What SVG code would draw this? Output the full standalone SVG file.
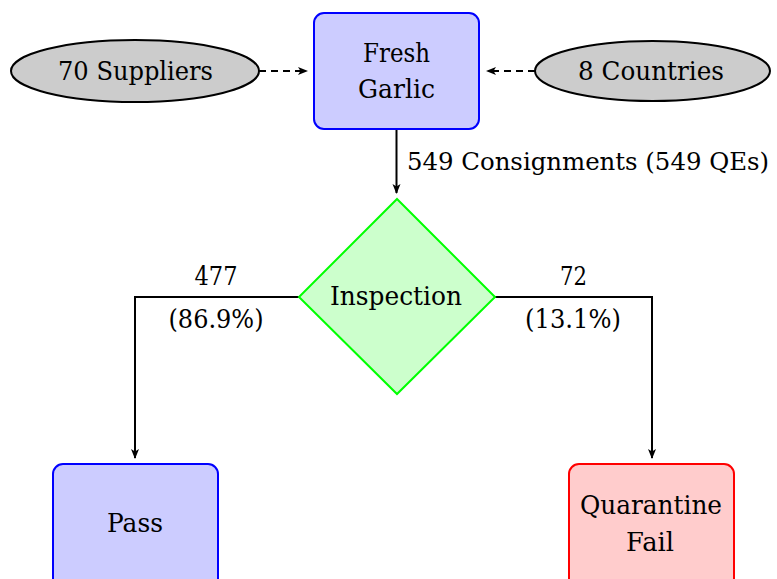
<svg xmlns="http://www.w3.org/2000/svg" width="777" height="579" viewBox="0 0 777 579">
<style>
text{font-family:"DejaVu Serif","Liberation Serif",serif;font-size:26px;fill:#000}
.c{text-anchor:middle}
.blue{fill:#ccccff;stroke:#0000ff;stroke-width:2}
.red{fill:#ffcccc;stroke:#ff0000;stroke-width:2}
.ell{fill:#cccccc;stroke:#000;stroke-width:2}
.ln{fill:none;stroke:#000;stroke-width:2}
.dash{stroke-dasharray:7,5}
</style>
<defs>
<marker id="ah" viewBox="0 0 10 10" refX="9" refY="5" markerWidth="10" markerHeight="10" markerUnits="userSpaceOnUse" orient="auto">
<path d="M0,1 L10,5 L0,9 L2.5,5 Z" fill="#000"/>
</marker>
</defs>
<g id="connectors">
<line class="ln dash" x1="259" y1="71" x2="307" y2="71" marker-end="url(#ah)"/>
<line class="ln dash" x1="535" y1="71" x2="487" y2="71" marker-end="url(#ah)"/>
<line class="ln" x1="396.5" y1="129" x2="396.5" y2="193" marker-end="url(#ah)"/>
<text x="407" y="170" style="font-size:24px" textLength="362" lengthAdjust="spacingAndGlyphs">549 Consignments (549 QEs)</text>
<polyline class="ln" points="299,297 135,297 135,458" marker-end="url(#ah)"/>
<polyline class="ln" points="495,297 652,297 652,458" marker-end="url(#ah)"/>
<text class="c" x="216" y="285" textLength="43" lengthAdjust="spacingAndGlyphs">477</text>
<text class="c" x="216" y="328" textLength="95" lengthAdjust="spacingAndGlyphs">(86.9%)</text>
<text class="c" x="573.5" y="285" textLength="27" lengthAdjust="spacingAndGlyphs">72</text>
<text class="c" x="573" y="328" textLength="96" lengthAdjust="spacingAndGlyphs">(13.1%)</text>
</g>
<g id="suppliers">
<ellipse class="ell" cx="135" cy="71" rx="124" ry="31"/>
<text class="c" x="135.5" y="80" textLength="155" lengthAdjust="spacingAndGlyphs">70 Suppliers</text>
</g>
<g id="countries">
<ellipse class="ell" cx="652.5" cy="71" rx="117.5" ry="30"/>
<text class="c" x="651" y="80" textLength="146" lengthAdjust="spacingAndGlyphs">8 Countries</text>
</g>
<g id="garlic">
<rect class="blue" x="314" y="13" width="165" height="116" rx="10"/>
<text class="c" x="396.5" y="62" textLength="67" lengthAdjust="spacingAndGlyphs">Fresh</text>
<text class="c" x="396.5" y="98" textLength="77" lengthAdjust="spacingAndGlyphs">Garlic</text>
</g>
<g id="inspection">
<polygon points="397,199 495,297 397,394 299,297" fill="#ccffcc" stroke="#00ff00" stroke-width="2"/>
<text class="c" x="396" y="305" textLength="132" lengthAdjust="spacingAndGlyphs">Inspection</text>
</g>
<g id="pass">
<rect class="blue" x="53" y="464" width="165" height="125" rx="10"/>
<text class="c" x="135" y="532" textLength="56" lengthAdjust="spacingAndGlyphs">Pass</text>
</g>
<g id="fail">
<rect class="red" x="569" y="464" width="165" height="125" rx="10"/>
<text class="c" x="651" y="514" textLength="142" lengthAdjust="spacingAndGlyphs">Quarantine</text>
<text class="c" x="650" y="551" textLength="48" lengthAdjust="spacingAndGlyphs">Fail</text>
</g>
</svg>
